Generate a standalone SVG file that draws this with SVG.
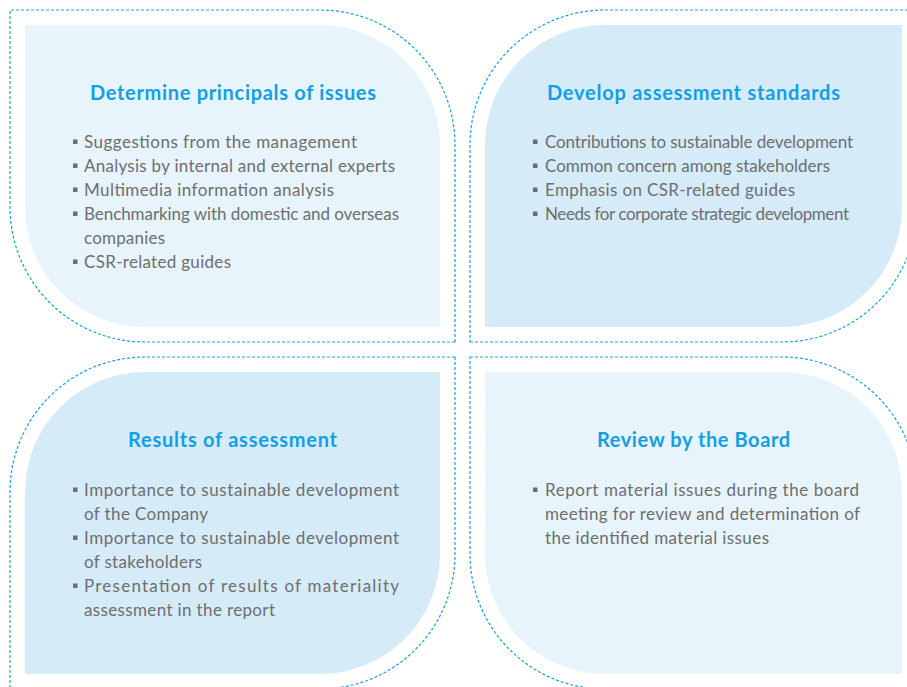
<svg xmlns="http://www.w3.org/2000/svg" width="907" height="687" viewBox="0 0 907 687">
<style>
.light{fill:#e7f4fc}
.dark{fill:#d5ebf8}
.dash{fill:none;stroke:#1a9fe4;stroke-width:1.2;stroke-dasharray:3 2}
.title{font-family:Lato,"Liberation Sans",sans-serif;font-weight:700;font-size:20px;fill:#139fe3;text-anchor:middle}
.item{font-family:Lato,"Liberation Sans",sans-serif;font-size:17px;fill:#6e6e6e}
.bul{fill:#6e6e6e}
</style>
<defs>
<rect id="b" width="4.5" height="4.5" class="bul"/>
</defs>
<rect width="907" height="687" fill="#ffffff"/>
<g id="dashed-frames">
<path class="dash" d="M455,342 H145 A135,135 0 0 1 10,207 V10 H320 A135,135 0 0 1 455,145 Z"/>
<path class="dash" d="M470,342 H782 A135,135 0 0 0 917,207 V10 H605 A135,135 0 0 0 470,145 Z"/>
<path class="dash" d="M455,357 H145 A135,135 0 0 0 10,492 V689 H320 A135,135 0 0 0 455,554 Z"/>
<path class="dash" d="M470,357 H782 A135,135 0 0 1 917,492 V689 H605 A135,135 0 0 1 470,554 Z"/>
</g>
<g id="determine-principals">
<path class="light" d="M25,25 H320 A120,120 0 0 1 440,145 V327 H145 A120,120 0 0 1 25,207 Z"/>
<text class="title" x="233" y="100" textLength="286">Determine principals of issues</text>
<use href="#b" x="73" y="139.5"/>
<text class="item" x="84" y="148" textLength="273">Suggestions from the management</text>
<use href="#b" x="73" y="163.5"/>
<text class="item" x="84" y="172" textLength="311">Analysis by internal and external experts</text>
<use href="#b" x="73" y="187.5"/>
<text class="item" x="84" y="196" textLength="250">Multimedia information analysis</text>
<use href="#b" x="73" y="211.5"/>
<text class="item" x="84" y="220" textLength="315">Benchmarking with domestic and overseas</text>
<text class="item" x="84" y="244" textLength="81">companies</text>
<use href="#b" x="73" y="259.5"/>
<text class="item" x="84" y="268" textLength="147">CSR-related guides</text>
</g>
<g id="develop-standards">
<path class="dark" d="M605,25 H902 V207 A120,120 0 0 1 782,327 H485 V145 A120,120 0 0 1 605,25 Z"/>
<text class="title" x="693.5" y="100" textLength="293">Develop assessment standards</text>
<use href="#b" x="533" y="139.5"/>
<text class="item" x="545" y="148" textLength="308">Contributions to sustainable development</text>
<use href="#b" x="533" y="163.5"/>
<text class="item" x="545" y="172" textLength="285">Common concern among stakeholders</text>
<use href="#b" x="533" y="187.5"/>
<text class="item" x="545" y="196" textLength="250">Emphasis on CSR-related guides</text>
<use href="#b" x="533" y="211.5"/>
<text class="item" x="545" y="220" textLength="304">Needs for corporate strategic development</text>
</g>
<g id="results-assessment">
<path class="dark" d="M145,372 H440 V554 A120,120 0 0 1 320,674 H25 V492 A120,120 0 0 1 145,372 Z"/>
<text class="title" x="232.5" y="447" textLength="209">Results of assessment</text>
<use href="#b" x="73" y="487.5"/>
<text class="item" x="84" y="496" textLength="315">Importance to sustainable development</text>
<text class="item" x="84" y="520" textLength="124">of the Company</text>
<use href="#b" x="73" y="535.5"/>
<text class="item" x="84" y="544" textLength="315">Importance to sustainable development</text>
<text class="item" x="84" y="568" textLength="118">of stakeholders</text>
<use href="#b" x="73" y="583.5"/>
<text class="item" x="84" y="592" textLength="315">Presentation of results of materiality</text>
<text class="item" x="84" y="616" textLength="191">assessment in the report</text>
</g>
<g id="review-board">
<path class="light" d="M485,372 H782 A120,120 0 0 1 902,492 V674 H605 A120,120 0 0 1 485,554 Z"/>
<text class="title" x="693.5" y="447" textLength="193">Review by the Board</text>
<use href="#b" x="533" y="487.5"/>
<text class="item" x="545" y="496" textLength="314">Report material issues during the board</text>
<text class="item" x="545" y="520" textLength="315">meeting for review and determination of</text>
<text class="item" x="545" y="544" textLength="224">the identified material issues</text>
</g>
</svg>
